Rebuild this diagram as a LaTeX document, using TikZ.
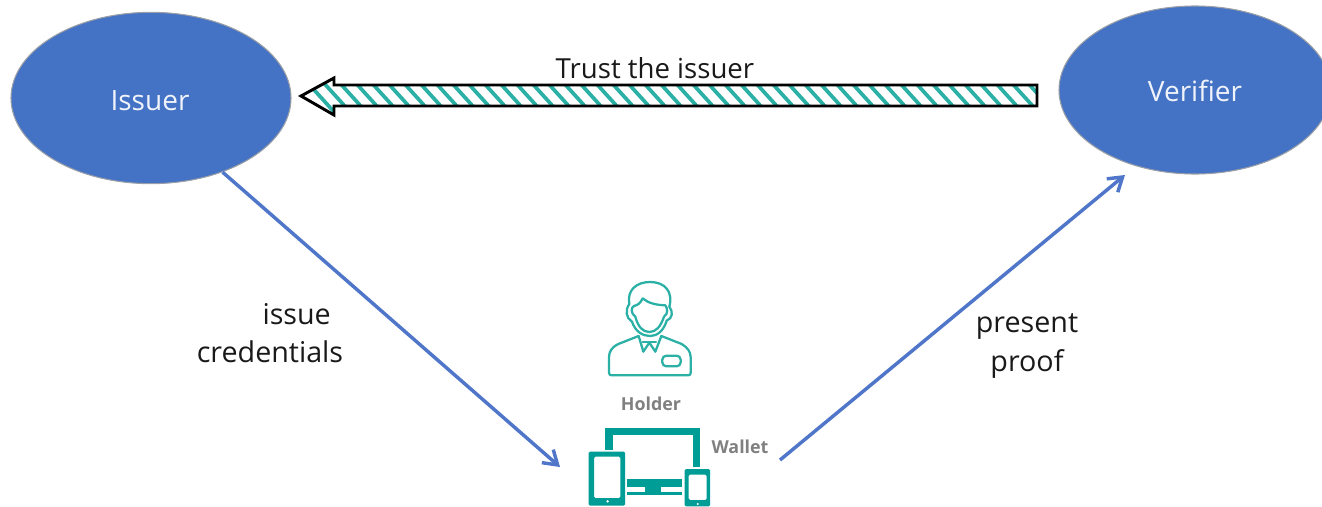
\documentclass[tikz,border=0pt]{standalone}
\usepackage{fontspec}
\setmainfont{Open Sans}
\usetikzlibrary{shapes.geometric,arrows.meta}
\definecolor{bluefill}{HTML}{4472C4}
\definecolor{flowblue}{HTML}{4F76C8}
\definecolor{teal1}{HTML}{009C96}
\definecolor{teal2}{HTML}{2BB0A6}
\definecolor{greytxt}{HTML}{808080}
\definecolor{edgegrey}{HTML}{9A9FA8}
\newcommand{\fsz}[1]{\fontsize{#1}{#1}\selectfont}
\tikzset{
  party/.style={ellipse,draw=edgegrey,line width=0.8pt,fill=bluefill,inner sep=0pt},
  partylabel/.style={text=white!92!bluefill,font=\fsz{21}},
  flowline/.style={draw=flowblue,line width=2.6pt,-{Straight Barb[length=10pt,width=13pt,line width=2.6pt]}},
  caption/.style={align=center,font=\fsz{21.5},text=black!90},
  small/.style={text=greytxt,font=\fsz{13.4}\bfseries},
  icon/.style={draw=teal2,line width=1.7pt,line join=round,line cap=round},
  devfill/.style={fill=teal1,draw=none},
}
\begin{document}
\begin{tikzpicture}[x=0.75pt,y=-0.75pt]
\useasboundingbox (0,0) rectangle (1322,507);
\begin{scope}
\clip (0,0) rectangle (1322,507);
\node[party,minimum width=210pt,minimum height=128.5pt] (issuer) at (151,98) {};
\node[party,minimum width=204pt,minimum height=126pt] (verifier) at (1195,90) {};
\end{scope}
\node[partylabel] (issuertxt) at (150,101) {Issuer};
\node[partylabel] (verifiertxt) at (1195,91) {Verifier};
% striped arrow
\begin{scope}
\clip (301,96) -- (334,78) -- (334,85) -- (1037,85) -- (1037,106) -- (334,106) -- (334,115) -- cycle;
\foreach \i in {0,...,46}{
  \draw[teal2,line width=2.8pt] ({296+16*\i},70) -- ({296+16*\i+50},125);
}
\end{scope}
\draw[black,line width=2.2pt,line join=miter] (301,96) -- (334,78) -- (334,85) -- (1037,85) -- (1037,106) -- (334,106) -- (334,115) -- cycle;
\node[caption,font=\fsz{20.7}] (trust) at (655,68) {Trust the issuer};
\coordinate (issueend) at (560,467);
\coordinate (proofstart) at (780,460);
\coordinate (proofend) at (1125,175);
\draw[flowline] (issuer.-46.6) -- (issueend);
\draw[flowline] (proofstart) -- (proofend);
\node[caption] (issuecap) at (270,333) {\hspace*{40pt}issue\\[7pt]credentials};
\node[caption] (proofcap) at (1027,346) {present\\[7pt]proof};
\node[small] (holder) at (651,404) {Holder};
\node[small] (wallet) at (740,447) {Wallet};
% person icon (zoom coordinates)
\begin{scope}[shift={(570,270)},x=0.25pt,y=-0.25pt]
 % hair
 \draw[icon] (178,102) .. controls (170,60) and (200,36) .. (240,36) .. controls (285,36) and (310,65) .. (298,110)
   .. controls (310,125) and (308,145) .. (290,152) .. controls (280,185) and (260,198) .. (240,198)
   .. controls (218,198) and (196,185) .. (186,155) .. controls (168,145) and (165,120) .. (178,102);
 % face
 \draw[icon] (218,85) .. controls (235,100) and (260,105) .. (286,106) .. controls (292,115) and (296,130) .. (282,140)
   .. controls (272,170) and (258,186) .. (238,186) .. controls (218,186) and (204,170) .. (196,140)
   .. controls (182,130) and (182,112) .. (192,108) .. controls (205,105) and (212,98) .. (218,85);
 % shoulders
 \draw[icon] (206,198) -- (145,222) .. controls (125,232) and (117,245) .. (117,262) -- (117,308)
   .. controls (117,314) and (120,316) .. (125,316) -- (354,316) .. controls (360,316) and (362,314) .. (362,308)
   -- (362,262) .. controls (362,245) and (352,232) .. (335,222) -- (274,198);
 % collar and tie
 \draw[icon] (206,198) -- (220,245) -- (238,218) -- (256,245) -- (274,198);
 \draw[icon] (218,215) -- (258,215);
 % badge
 \draw[icon,rounded corners=3pt] (277,257) rectangle (332,289);
\end{scope}
% devices
\begin{scope}[shift={(570,270)},x=0.25pt,y=-0.25pt]
 \fill[devfill] (106,474) rectangle (389,494);
 \fill[devfill] (106,474) rectangle (128,540);
 \fill[devfill] (369,474) rectangle (389,592);
 \fill[devfill] (172,628) rectangle (336,652);
 \fill[devfill] (172,666) rectangle (336,676);
 \fill[devfill] (224,652) rectangle (272,666);
 % tablet
 \fill[devfill,rounded corners=1pt,even odd rule] (56,545) rectangle (165,707) (72,560) rectangle (151,684);
 \fill[white] (113,694) circle (4);
 % phone
 \fill[devfill,rounded corners=1pt,even odd rule] (344,597) rectangle (420,709) (356,614) rectangle (410,690);
 \fill[white] (383,702) circle (3.5);
\end{scope}
\end{tikzpicture}
\end{document}
